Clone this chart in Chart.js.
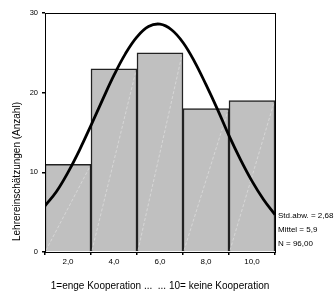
<!DOCTYPE html>
<html>
<head>
<meta charset="utf-8">
<script src="https://cdn.jsdelivr.net/npm/chart.js@4"></script>
<style>
  html, body { margin: 0; padding: 0; background: #fff; }
  #wrap { width: 335px; height: 296px; }
</style>
</head>
<body>
<div id="wrap"><canvas id="histChart" width="335" height="296"></canvas></div>
<script>
// Klassenmitten und Häufigkeiten
const binCenters = [2, 4, 6, 8, 10];
const counts = [11, 23, 25, 18, 19];

// Normalverteilungskurve
const curveX = [1, 1.5, 2, 2.5, 3, 3.5, 4, 4.5, 5, 5.5, 6, 6.5, 7, 7.5, 8, 8.5, 9, 9.5, 10, 10.5, 11];
const curveY = [5.8, 7.6, 10.0, 12.8, 15.9, 19.1, 22.2, 24.9, 27.0, 28.3, 28.6, 27.9, 26.3, 23.9, 21.0, 17.9, 14.6, 11.6, 8.9, 6.6, 4.7];

const xTicks = [2, 4, 6, 8, 10];
const yTicks = [0, 10, 20, 30];

const statsLines = ['Std.abw. = 2,68', 'Mittel = 5,9', 'N = 96,00'];
const xTitle = '1=enge Kooperation ...  ... 10= keine Kooperation';
const yTitle = 'Lehrereinschätzungen (Anzahl)';

const fontFamily = '"Liberation Sans", Arial, sans-serif';

// schwache helle Diagonale in jedem Balken (wie im SPSS-Export)
const diagPlugin = {
  id: 'diag',
  afterDatasetDraw(chart, args) {
    if (args.meta.type !== 'bar') return;
    const ctx = chart.ctx;
    ctx.save();
    ctx.strokeStyle = 'rgba(255,255,255,0.45)';
    ctx.lineWidth = 0.8;
    ctx.setLineDash([3, 2]);
    args.meta.data.forEach(bar => {
      const half = bar.width / 2;
      ctx.beginPath();
      ctx.moveTo(bar.x - half + 1, bar.base - 1);
      ctx.lineTo(bar.x + half - 1, bar.y + 2);
      ctx.stroke();
    });
    ctx.restore();
  }
};

// Rahmen um die Plotfläche, y-Titel und Kennwerte rechts daneben
const framePlugin = {
  id: 'frame',
  afterDraw(chart) {
    const { ctx, chartArea: a } = chart;
    ctx.save();
    ctx.strokeStyle = '#000';
    ctx.lineWidth = 1;
    ctx.strokeRect(Math.round(a.left) + 0.5, Math.round(a.top) + 0.5,
      Math.round(a.right - a.left), Math.round(a.bottom - a.top));
    ctx.fillStyle = '#000';
    ctx.font = '8px ' + fontFamily;
    ctx.textBaseline = 'middle';
    ctx.textAlign = 'left';
    statsLines.forEach((t, i) => {
      ctx.fillText(t, a.right + 3, a.bottom - 36 + i * 14);
    });
    // y-Titel, unten bündig wie im Original
    ctx.translate(17, a.bottom - 11);
    ctx.rotate(-Math.PI / 2);
    ctx.font = '10px ' + fontFamily;
    ctx.fillText(yTitle, 0, 0);
    ctx.restore();
  }
};

new Chart(document.getElementById('histChart'), {
  data: {
    datasets: [
      {
        type: 'line',
        data: curveX.map((x, i) => ({ x: x, y: curveY[i] })),
        borderColor: '#000',
        borderWidth: 2.8,
        pointRadius: 0,
        tension: 0.4,
        fill: false,
        order: 0
      },
      {
        type: 'bar',
        data: binCenters.map((x, i) => ({ x: x, y: counts[i] })),
        backgroundColor: '#c0c0c0',
        borderColor: '#222',
        borderWidth: 1.5,
        barPercentage: 1,
        categoryPercentage: 1,
        order: 1
      }
    ]
  },
  options: {
    responsive: false,
    animation: false,
    layout: { padding: { left: 0, right: 60, top: 13, bottom: 0 } },
    plugins: { legend: { display: false }, tooltip: { enabled: false } },
    scales: {
      x: {
        type: 'linear',
        min: 1,
        max: 11,
        offset: false,
        afterBuildTicks(axis) { axis.ticks = xTicks.map(v => ({ value: v })); },
        afterFit(axis) { axis.height = 44; },
        grid: { drawOnChartArea: false, tickLength: 3, color: '#000', lineWidth: 1.5 },
        border: { display: false },
        ticks: {
          color: '#000',
          padding: 2,
          maxRotation: 0,
          font: { family: fontFamily, size: 8 },
          callback: v => v.toFixed(1).replace('.', ',')
        },
        title: {
          display: true,
          text: xTitle,
          color: '#000',
          font: { family: fontFamily, size: 10 },
          padding: { top: 13 }
        }
      },
      y: {
        min: 0,
        max: 30,
        afterBuildTicks(axis) { axis.ticks = yTicks.map(v => ({ value: v })); },
        afterFit(axis) { axis.width = 45; },
        grid: { drawOnChartArea: false, tickLength: 3, color: '#000', lineWidth: 1.5 },
        border: { display: false },
        ticks: {
          color: '#000',
          padding: 4,
          font: { family: fontFamily, size: 7.5 }
        }
      }
    }
  },
  plugins: [diagPlugin, framePlugin]
});
</script>
</body>
</html>
